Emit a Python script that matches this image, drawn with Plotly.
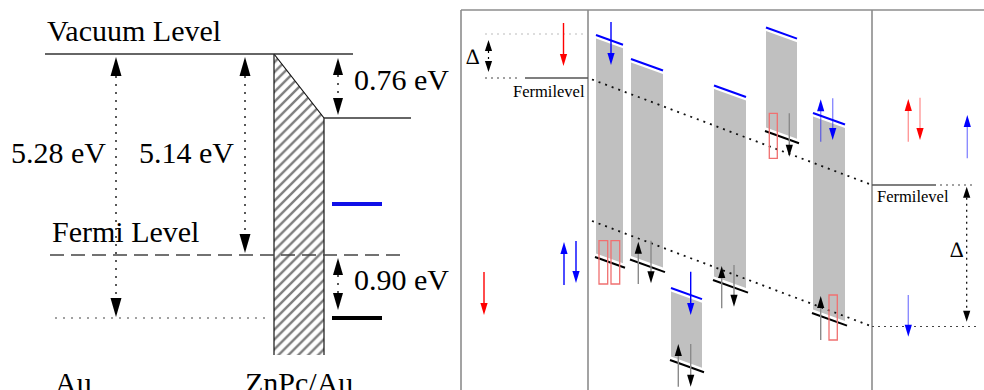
import plotly.graph_objects as go

W, H = 984, 390

# ---------------- Left panel: Au / ZnPc energy diagram (schematic units) ----------------
level_names = ["vacuum", "vacuum_ZnPc", "fermi", "Au_level", "LUMO", "HOMO"]
level_y = [54, 118, 255, 318, 204, 318]
level_x0 = [45, 324, 50, 55, 332, 332]
level_x1 = [353, 411, 406, 270, 382, 382]

hatch_x = [274, 324, 324, 274, 274]
hatch_y = [54, 118, 355, 355, 54]

dim_labels = ["5.28 eV", "5.14 eV", "0.76 eV", "0.90 eV"]
dim_x = [116, 245, 338, 338]
dim_top = [57, 57, 58, 258]
dim_bot = [317, 253, 115, 310]
dim_label_x = [9, 137, 352, 352]
dim_label_y = [152, 152, 79, 279]

left_titles = ["Vacuum Level", "Fermi Level", "Au", "ZnPc/Au"]
left_title_x = [45, 50, 53, 243]
left_title_y = [30, 231, 382, 382]

# ---------------- Right panel: spin-resolved band schematic ----------------
frame_x = [461, 588, 872]
col_x0 = [596, 631, 671, 714, 766, 813]
col_x1 = [623, 663, 702, 746, 797, 845]
col_top = [38.5, 62.5, 291.5, 89, 31, 116.5]
col_bot = [253.5, 256, 356.5, 276.5, 127.5, 309.5]

arrow_x = [563.5, 484, 564, 576,
           611, 690.7, 820.7, 832.7,
           638.3, 651, 678.3, 690.7, 721.7, 734, 789.3, 820.7,
           908.3, 920, 967.3, 908.3]
arrow_tail = [23, 272, 285, 241,
              22, 271.7, 141.7, 98.3,
              284, 240.7, 386.7, 344, 308.3, 265, 113.3, 340,
              141.7, 97.7, 158.3, 295]
arrow_tip = [66, 315, 242, 283,
             65, 315, 99.3, 140,
             241.7, 283.3, 344, 386.7, 266, 306.7, 156.7, 296,
             99, 140, 115, 336.7]
arrow_kind = ["red", "red", "blue", "blue",
              "blue", "blue", "blue_light", "blue_light",
              "black", "black", "black", "black", "black", "black", "black", "black",
              "red_light", "red_light", "blue_light", "blue_light"]

rect_x0 = [599, 611, 769.3, 829]
rect_x1 = [607.7, 619.7, 777.3, 837.3]
rect_y0 = [240.7, 240.7, 113.3, 295]
rect_y1 = [284, 284, 158.3, 340]

fermi_line_x = [592, 872]
fermi_upper_y = [79.5, 185]
fermi_lower_y = [221, 326.5]

delta_arrow_x = [488.5, 966.7]
delta_arrow_top = [40, 186.7]
delta_arrow_bot = [72, 321.7]
delta_label_x = [472, 956]
delta_label_y = [56, 249]

fermi_label_x = [511, 875]
fermi_label_y = [91.5, 196]

# ---------------- styles ----------------
SERIF = "'Liberation Serif', 'Times New Roman', 'DejaVu Serif', serif"
TILT = 0.36
kind_style = {
    "red": ("#ff0000", "#ff0000"),
    "red_light": ("rgba(255,0,0,0.4)", "#ff0000"),
    "blue": ("#0000ff", "#0000ff"),
    "blue_light": ("rgba(0,0,255,0.45)", "#0000ff"),
    "black": ("#8a8a8a", "#000000"),
}

shapes = []
annotations = []


def line(x0, y0, x1, y1, color="black", width=1.0, dash=None):
    ln = dict(color=color, width=width)
    if dash:
        ln["dash"] = dash
    shapes.append(dict(type="line", xref="x", yref="y", x0=x0, y0=y0, x1=x1, y1=y1, line=ln))


def tri(xt, yt, length, half, color, direction):
    yb = yt - direction * length
    path = f"M{xt},{yt} L{xt - half},{yb} L{xt + half},{yb} Z"
    shapes.append(dict(type="path", xref="x", yref="y", path=path,
                       fillcolor=color, line=dict(width=0)))


def arrow(x, y_tail, y_tip, shaft, head, length=12, half=3.5, width=1.4):
    d = 1 if y_tip > y_tail else -1
    line(x, y_tail, x, y_tip - d * length * 0.5, shaft, width)
    tri(x, y_tip, length, half, head, d)


def dim_arrow(x, y_top, y_bot, length, half, dash, width=1.3):
    line(x, y_top + length, x, y_bot - length, "black", width, dash)
    tri(x, y_top, length, half, "black", -1)
    tri(x, y_bot, length, half, "black", 1)


def text(x, y, s, size, xanchor="left"):
    annotations.append(dict(x=x, y=y, xref="x", yref="y", text=s, showarrow=False,
                            xanchor=xanchor, yanchor="middle",
                            font=dict(family=SERIF, size=size, color="black")))


fig = go.Figure()

# hatched ZnPc layer
fig.add_trace(go.Scatter(x=hatch_x, y=hatch_y, mode="lines", fill="toself",
                         fillcolor="white",
                         fillpattern=dict(shape="/", size=7, solidity=0.35,
                                          fgcolor="black", bgcolor="white"),
                         line=dict(width=0), hoverinfo="skip", showlegend=False))
line(hatch_x[0], hatch_y[0], hatch_x[1], hatch_y[1], "#111", 1.2)
line(hatch_x[1], hatch_y[1], hatch_x[2], hatch_y[2], "#111", 1.2)
line(hatch_x[0], hatch_y[0], hatch_x[3], hatch_y[3], "#111", 1.2)

# levels
level_style = {
    "vacuum": ("#333", 1.3, None),
    "vacuum_ZnPc": ("#333", 1.3, None),
    "fermi": ("#444", 1.3, "14px,7px"),
    "Au_level": ("#444", 1.2, "2px,6px"),
    "LUMO": ("#1010e8", 4, None),
    "HOMO": ("#000", 4, None),
}
for n, y, x0, x1 in zip(level_names, level_y, level_x0, level_x1):
    c, w, dsh = level_style[n]
    line(x0, y, x1, y, c, w, dsh)

for lab, x, t, b, lx, ly in zip(dim_labels, dim_x, dim_top, dim_bot, dim_label_x, dim_label_y):
    big = (b - t) > 100
    dim_arrow(x, t, b, 19 if big else 17, 5.5 if big else 5, "2px,6px")
    text(lx, ly, lab, 30)

for s, x, y in zip(left_titles, left_title_x, left_title_y):
    text(x, y, s, 30)

# ---------------- right panel ----------------
FRAME = "#8c8c8c"
line(frame_x[0], 10, W, 10, FRAME, 1.6)
for fx in frame_x:
    line(fx, 10, fx, H, FRAME, 1.6)

# left sub-panel reference lines
line(485, 34, 585, 34, "#bbbbbb", 1.2, "2px,4px")
line(485, 78, 521, 78, "#444", 1.2, "2px,4px")
line(525, 78, frame_x[1], 78, "#555", 1.4)
# right sub-panel reference lines
line(frame_x[2], 185, 936, 185, "#555", 1.4)
line(940, 185, 976, 185, "#444", 1.2, "2px,4px")
line(frame_x[2], 326.5, 976, 326.5, "#444", 1.2, "2px,4px")

# gray band columns
for x0, x1, t, b in zip(col_x0, col_x1, col_top, col_bot):
    w = x1 - x0
    path = (f"M{x0},{t} L{x1},{t + TILT * w} L{x1},{b + TILT * w} L{x0},{b} Z")
    shapes.append(dict(type="path", xref="x", yref="y", path=path,
                       fillcolor="#c0c0c0", line=dict(width=0), layer="below"))
    line(x0, t - 3.5, x1, t - 3.5 + TILT * w, "#0000ff", 2)
    line(x0 - 1, b + 3.5, x1 + 2, b + 3.5 + TILT * (w + 3), "#000", 2)

# slanted Fermi-level dotted lines
line(fermi_line_x[0], fermi_upper_y[0], fermi_line_x[1], fermi_upper_y[1], "#111", 1.8, "2px,5px")
line(fermi_line_x[0], fermi_lower_y[0], fermi_line_x[1], fermi_lower_y[1], "#111", 1.8, "2px,5px")

# red boxes
for x0, x1, y0, y1 in zip(rect_x0, rect_x1, rect_y0, rect_y1):
    shapes.append(dict(type="rect", xref="x", yref="y", x0=x0, x1=x1, y0=y0, y1=y1,
                       line=dict(color="#f07070", width=1.3), fillcolor="rgba(0,0,0,0)"))

# spin arrows
for x, t, p, k in zip(arrow_x, arrow_tail, arrow_tip, arrow_kind):
    sc, hc = kind_style[k]
    arrow(x, t, p, sc, hc, 12, 3.6, 1.4)

# delta markers
for x, t, b in zip(delta_arrow_x, delta_arrow_top, delta_arrow_bot):
    dim_arrow(x, t, b, 11, 3.6, "2px,4px", 1.2)
for x, y in zip(delta_label_x, delta_label_y):
    text(x, y, "<i>∆</i>", 22, "center")

for x, y in zip(fermi_label_x, fermi_label_y):
    text(x, y, "Fermilevel", 16.5)

fig.update_layout(
    width=W, height=H,
    margin=dict(l=0, r=0, t=0, b=0),
    paper_bgcolor="white", plot_bgcolor="white",
    font=dict(family=SERIF),
    xaxis=dict(range=[0, W], visible=False, fixedrange=True),
    yaxis=dict(range=[H, 0], visible=False, fixedrange=True),
    shapes=shapes, annotations=annotations, showlegend=False,
)

fig.write_html("out.html", config={"displayModeBar": False},
               post_script="document.body.style.margin='0';document.body.style.overflow='hidden';")
